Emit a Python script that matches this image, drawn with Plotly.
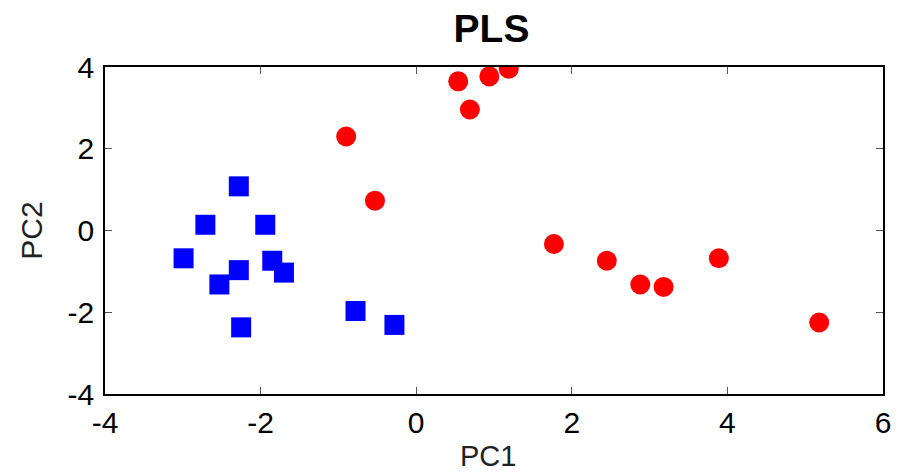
import plotly.graph_objects as go

# Group 1 (blue squares)
blue_x = [-2.28, -2.71, -1.94, -2.99, -2.28, -1.85, -1.70, -2.53, -2.25, -0.78, -0.28]
blue_y = [1.08, 0.14, 0.14, -0.68, -0.97, -0.74, -1.03, -1.32, -2.37, -1.97, -2.31]

# Group 2 (red circles)
red_x = [0.54, 0.94, 1.19, 0.69, -0.90, -0.53, 1.77, 2.45, 2.88, 3.18, 3.89, 5.18]
red_y = [3.65, 3.77, 3.96, 2.96, 2.30, 0.73, -0.33, -0.74, -1.32, -1.38, -0.68, -2.25]

x_ticks = [-4, -2, 0, 2, 4, 6]
x_labels = ["-4", "-2", "0", "2", "4", "6"]
y_ticks = [-4, -2, 0, 2, 4]
y_labels = ["-4", "-2", "0", "2", "4"]

fig = go.Figure()
fig.add_trace(go.Scatter(x=blue_x, y=blue_y, mode="markers",
                         marker=dict(symbol="square", size=20, color="#0000ff", line=dict(width=0)),
                         showlegend=False))
fig.add_trace(go.Scatter(x=red_x, y=red_y, mode="markers",
                         marker=dict(symbol="circle", size=20, color="#ff0000", line=dict(width=0)),
                         showlegend=False))

font = "Liberation Sans, Arial, Helvetica, sans-serif"
axis_common = dict(showgrid=False, zeroline=False, showline=True, linecolor="black", linewidth=1.5,
                   mirror="ticks", ticks="inside", ticklen=7, tickwidth=1, tickcolor="#555555",
                   automargin=False,
                   tickfont=dict(family=font, size=30, color="black"))

fig.update_layout(
    width=913, height=475,
    margin=dict(l=97, r=38, t=59, b=89),
    paper_bgcolor="white", plot_bgcolor="white",
    title=dict(text="<b>PLS</b>", x=0.5296, xanchor="center", y=0.958, yanchor="middle",
               font=dict(family=font, size=39, color="black")),
    xaxis=dict(range=[-4, 6], tickvals=x_ticks, ticktext=x_labels, ticklabelstandoff=1,
               **axis_common),
    yaxis=dict(range=[-4, 4], tickvals=y_ticks, ticktext=y_labels, ticklabelstandoff=3,
               title=dict(text="PC2", font=dict(family=font, size=30, color="#222222"), standoff=16),
               **axis_common),
    annotations=[dict(text="PC1", xref="paper", yref="paper", x=0.4923, y=-0.19,
                      xanchor="center", yanchor="middle", showarrow=False,
                      font=dict(family=font, size=29, color="#222222"))],
)
fig.write_html("out.html")
